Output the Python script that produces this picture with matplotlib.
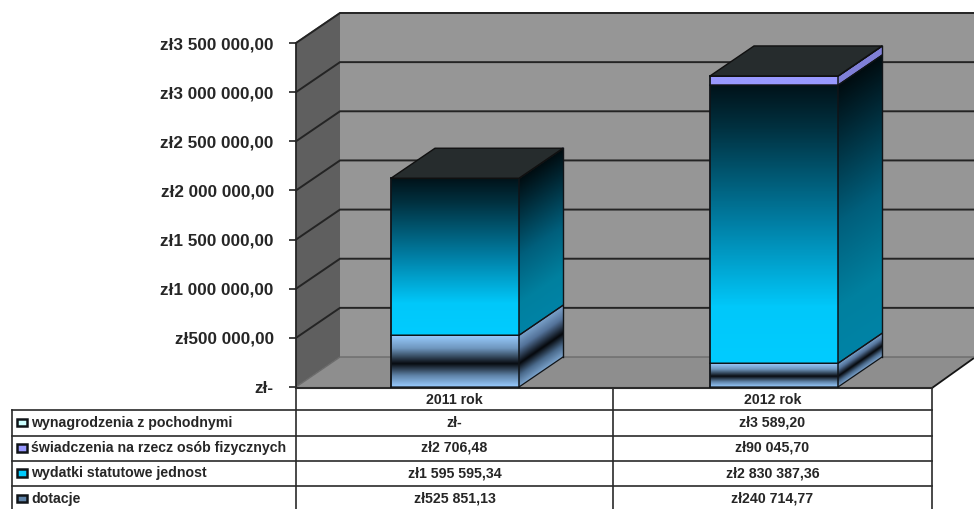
import matplotlib
matplotlib.use("Agg")
import matplotlib.pyplot as plt
import numpy as np
from matplotlib.colors import LinearSegmentedColormap as LSC
from matplotlib.patches import Polygon, Rectangle
from matplotlib.transforms import Affine2D

plt.rcParams['font.family'] = ['Liberation Sans', 'DejaVu Sans']

categories = ['2011 rok', '2012 rok']
series_names = ['wynagrodzenia z pochodnymi', 'świadczenia na rzecz osób fizycznych',
                'wydatki statutowe jednost', 'dotacje']
wynagrodzenia = [0.0, 3589.20]
swiadczenia = [2706.48, 90045.70]
statutowe = [1595595.34, 2830387.36]
dotacje = [525851.13, 240714.77]
tick_values = [0, 500000, 1000000, 1500000, 2000000, 2500000, 3000000, 3500000]
tick_labels = ['zł-', 'zł500 000,00', 'zł1 000 000,00', 'zł1 500 000,00', 'zł2 000 000,00',
               'zł2 500 000,00', 'zł3 000 000,00', 'zł3 500 000,00']
table_wyn = ['zł-', 'zł3 589,20']
table_swi = ['zł2 706,48', 'zł90 045,70']
table_sta = ['zł1 595 595,34', 'zł2 830 387,36']
table_dot = ['zł525 851,13', 'zł240 714,77']

W, H = 974, 509
Y0, YTOP = 387.0, 43.0
SCALE = (Y0 - YTOP) / 3500000.0
DX, DY = 44, 30
TXT = '#262626'
FS = 10.2

fig = plt.figure(figsize=(W / 100, H / 100), dpi=100, facecolor='white')
pix = fig.add_axes([0, 0, 1, 1], zorder=1)
pix.set_xlim(0, W); pix.set_ylim(H, 0); pix.axis('off')
ax = fig.add_axes([0, 0, 1, 1], zorder=2)
ax.patch.set_alpha(0)
YLIM = ((Y0 - H) / SCALE, Y0 / SCALE)
DYV = DY / SCALE

# walls and floor
LINE = '#242424'
pix.add_patch(Polygon([(296, Y0), (340, Y0 - DY), (340, 12), (296, 42)], fc='#5f5f5f', ec='none', zorder=1))
pix.add_patch(Polygon([(340, Y0 - DY), (974, Y0 - DY), (974, 12), (340, 12)], fc='#969696', ec='none', zorder=1))
pix.add_patch(Polygon([(296, Y0), (340, Y0 - DY), (974, Y0 - DY), (974, 358), (932, Y0 + 1), (296, Y0 + 1)],
                      fc='#8e8e8e', ec='none', zorder=1))
pix.plot([932, 974], [Y0 + 1, 358], color='#151515', lw=1.3, zorder=2)
for v in tick_values:
    xs = np.array([296, 340, 974])
    ys = np.array([v, v + DYV, v + DYV])
    ax.plot(xs, ys, color='#6b6b6b' if v == 0 else LINE, lw=1.0 if v == 0 else 1.4, zorder=2,
            solid_joinstyle='miter')


def cm(*stops):
    return LSC.from_list('g', list(stops))


maps = {
    'dot': (cm((0, '#99ccff'), (0.25, '#6f97bf'), (0.55, '#070b10'), (0.78, '#5f83a8'), (1, '#99ccff')),
            cm((0, '#7ba3cc'), (0.25, '#54739a'), (0.55, '#05080c'), (0.78, '#4a6a8c'), (1, '#7ba3cc'))),
    'sta': (cm((0, '#00131a'), (0.15, '#00303f'), (0.5, '#007fa5'), (0.8, '#00c8fa'), (1, '#00ccff')),
            cm((0, '#000c10'), (0.15, '#002430'), (0.5, '#005f7c'), (0.8, '#00809f'), (1, '#0083a6'))),
    'swi': (cm((0, '#9999ff'), (1, '#9999ff')), cm((0, '#8080d8'), (1, '#8080d8'))),
    'wyn': (cm((0, '#ccffff'), (1, '#ccffff')), cm((0, '#a0d0d0'), (1, '#a0d0d0'))),
}
stack = [('dot', dotacje), ('sta', statutowe), ('swi', swiadczenia), ('wyn', wynagrodzenia)]
lefts = [391, 710]
BW = 128
GRAD = np.linspace(0, 1, 200)[:, None]
for i, x0 in enumerate(lefts):
    base = 0.0
    for key, vals in stack:
        v = vals[i]
        if v <= 0:
            continue
        top = base + v
        front, side = maps[key]
        ax.imshow(GRAD, cmap=front, vmin=0, vmax=1, aspect='auto', origin='upper',
                  extent=(x0, x0 + BW, base, top), interpolation='bilinear', zorder=4)
        k = DYV / DX
        xs = x0 + BW
        skew = Affine2D.from_values(1, k, 0, 1, 0, -k * xs)
        ax.imshow(GRAD, cmap=side, vmin=0, vmax=1, aspect='auto', origin='upper',
                  extent=(xs, xs + DX, base, top), interpolation='bilinear', zorder=4,
                  transform=skew + ax.transData)
        ec = '#101418'
        ax.plot([x0, x0 + BW, x0 + BW + DX], [base, base, base + DYV], color=ec, lw=0.9, zorder=5)
        ax.plot([x0, x0 + BW, x0 + BW + DX], [top, top, top + DYV], color=ec, lw=0.9, zorder=5)
        base = top
    ax.add_patch(Polygon([(x0, base), (x0 + BW, base), (x0 + BW + DX, base + DYV), (x0 + DX, base + DYV)],
                         fc='#262c2d', ec='#101010', lw=1.0, zorder=6))
    ax.plot([x0, x0], [0, base], color='#101418', lw=1.3, zorder=5)
    ax.plot([x0 + BW, x0 + BW], [0, base], color='#101418', lw=1.1, zorder=5)
    ax.plot([x0 + BW + DX] * 2, [DYV, base + DYV], color='#101418', lw=1.0, zorder=5)

ax.set_xlim(0, W)
ax.set_ylim(*YLIM)

# axes
for s in ('top', 'right'):
    ax.spines[s].set_visible(False)
ax.spines['left'].set_position(('data', 296))
ax.spines['left'].set_bounds(0, 3500000)
ax.spines['left'].set_color(LINE)
ax.spines['left'].set_linewidth(1.3)
ax.spines['bottom'].set_visible(False)
ax.set_yticks(tick_values, tick_labels, fontsize=12.3, fontweight='bold', color=TXT)
ax.tick_params(axis='y', length=5, width=1.2, color=LINE, pad=11)
ax.set_xticks([])

# data table
cols = [12, 296, 613, 932]
rows = [410, 435.5, 460.5, 486, 511]
for y in rows[:-1]:
    pix.plot([cols[0], cols[-1]], [y, y], color='#2a2a2a', lw=1.2, zorder=3)
pix.plot([296, 932], [388, 388], color='#2a2a2a', lw=1.5, zorder=3)
pix.plot([12, 12], [410, 509], color='#2a2a2a', lw=1.2, zorder=3)
for x in cols[1:]:
    pix.plot([x, x], [388, 509], color='#2a2a2a', lw=1.2, zorder=3)
mid = [(cols[1] + cols[2]) / 2, (cols[2] + cols[3]) / 2]
for m, cat in zip(mid, categories):
    pix.text(m, 400, cat, ha='center', va='center', fontsize=FS, fontweight='bold', color=TXT)
key_cols = ['#ccffff', '#9999ff', '#00ccff', '#5f83a8']
table_rows = [table_wyn, table_swi, table_sta, table_dot]
for r, (name, row, kc) in enumerate(zip(series_names, table_rows, key_cols)):
    yc = (rows[r] + rows[r + 1]) / 2
    pix.add_patch(Rectangle((17, yc - 4), 10, 7.5, fc=kc, ec='#101418', lw=1.8, zorder=3))
    pix.text(31, yc, name, ha='left', va='center', fontsize=FS, fontweight='bold', color=TXT)
    for m, s in zip(mid, row):
        pix.text(m, yc, s, ha='center', va='center', fontsize=FS, fontweight='bold', color=TXT)

fig.savefig('out.png', dpi=100, facecolor='white')
